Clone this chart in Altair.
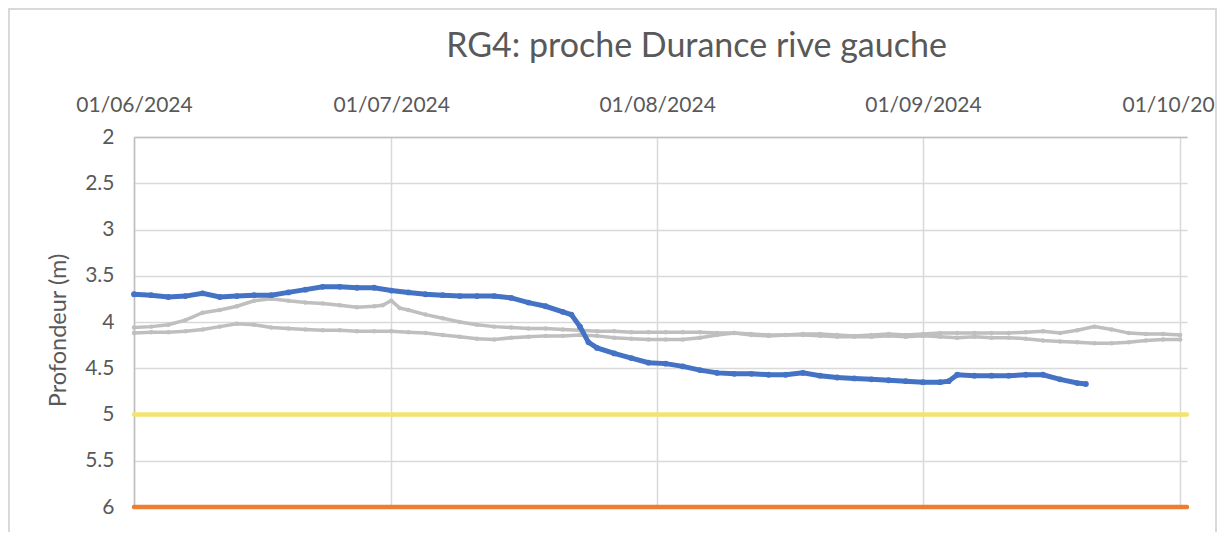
import altair as alt
import pandas as pd

# --- data (day offsets from 01/06/2024, depth in m) ---
blue_days = [0, 2, 4, 6, 8, 10, 12, 14, 16, 18, 20, 22, 24, 26, 28, 30, 32, 34, 36, 38,
             40, 42, 44, 46, 48, 50, 51, 52, 53, 54, 56, 58, 60, 62, 64, 66, 68, 70, 72, 74,
             76, 78, 80, 82, 84, 86, 88, 90, 92, 94, 95, 96, 98, 100, 102, 104, 106, 108, 110, 111]
blue_vals = [3.70, 3.71, 3.73, 3.72, 3.69, 3.73, 3.72, 3.71, 3.71, 3.68,
             3.65, 3.62, 3.62, 3.63, 3.63, 3.66, 3.68, 3.70, 3.71, 3.72,
             3.72, 3.72, 3.74, 3.79, 3.83, 3.89, 3.92, 4.05, 4.22, 4.28,
             4.34, 4.39, 4.44, 4.45, 4.48, 4.52, 4.55, 4.56, 4.56, 4.57,
             4.57, 4.55, 4.58, 4.60, 4.61, 4.62, 4.63, 4.64, 4.65, 4.65,
             4.64, 4.57, 4.58, 4.58, 4.58, 4.57, 4.57, 4.62, 4.66, 4.67]

grey_a_days = [0, 2, 4, 6, 8, 10, 12, 14, 16, 18, 20, 22, 24, 26, 28, 29, 30, 31,
               32, 34, 36, 38, 40, 42, 44, 46, 48, 50, 52, 54, 56, 58, 60, 62, 64, 66, 68, 70,
               72, 74, 76, 78, 80, 82, 84, 86, 88, 90, 92, 94, 96, 98, 100, 102, 104, 106, 108, 110,
               112, 114, 116, 118, 120, 122]
grey_a_vals = [4.06, 4.05, 4.03, 3.98, 3.90, 3.87, 3.83, 3.77, 3.75, 3.77, 3.79, 3.80, 3.82, 3.84, 3.83,
               3.82, 3.77, 3.85,
               3.87, 3.92, 3.96, 4.00, 4.03, 4.05, 4.06, 4.07, 4.07, 4.08,
               4.09, 4.10, 4.10, 4.11, 4.11, 4.11, 4.11, 4.11, 4.12, 4.12,
               4.13, 4.14, 4.14, 4.13, 4.13, 4.14, 4.15, 4.14, 4.13, 4.14,
               4.13, 4.12, 4.12, 4.12, 4.12, 4.12, 4.11, 4.10, 4.12, 4.09,
               4.05, 4.08, 4.12, 4.13, 4.13, 4.14]

grey_b_days = list(range(0, 123, 2))
grey_b_vals = [4.12, 4.11, 4.11, 4.10, 4.08, 4.05, 4.02, 4.03, 4.06, 4.07,
               4.08, 4.09, 4.09, 4.10, 4.10, 4.10, 4.11, 4.12, 4.14, 4.16,
               4.18, 4.19, 4.17, 4.16, 4.15, 4.15, 4.14, 4.15, 4.17, 4.18,
               4.19, 4.19, 4.19, 4.17, 4.14, 4.12, 4.14, 4.15, 4.14, 4.14,
               4.15, 4.16, 4.16, 4.16, 4.15, 4.16, 4.15, 4.16, 4.17, 4.16,
               4.17, 4.17, 4.18, 4.20, 4.21, 4.22, 4.23, 4.23, 4.22, 4.20,
               4.19, 4.19]

thresholds = [5.0, 6.0]
threshold_colors = ["#F3E46F", "#ED7D31"]

month_ticks = [(2024, 6), (2024, 7), (2024, 8), (2024, 9), (2024, 10)]
y_ticks = [2, 2.5, 3, 3.5, 4, 4.5, 5, 5.5, 6]

base = pd.Timestamp("2024-06-01")


def frame(name, days, vals):
    return pd.DataFrame({
        "serie": name,
        "date": [(base + pd.Timedelta(days=d)).strftime("%Y-%m-%dT%H:%M:%S") for d in days],
        "prof": vals,
    })


greys = pd.concat([frame("g1", grey_a_days, grey_a_vals), frame("g2", grey_b_days, grey_b_vals)])
blue = frame("b", blue_days, blue_vals)
thr = pd.DataFrame({"seuil": thresholds, "col": threshold_colors})

W, H = 1053, 370

x_enc = alt.X(
    "date:T",
    scale=alt.Scale(domain=[alt.DateTime(year=2024, month=6, date=1),
                            alt.DateTime(year=2024, month=10, date=1, hours=19)], nice=False),
    axis=alt.Axis(orient="top", title=None, format="%d/%m/%Y",
                  values=[alt.DateTime(year=y, month=m, date=1) for y, m in month_ticks],
                  labelPadding=22, grid=True, labelFlush=False),
)
y_enc = alt.Y(
    "prof:Q",
    scale=alt.Scale(domain=[2, 6], reverse=True, nice=False, zero=False),
    axis=alt.Axis(title="Profondeur (m)", values=y_ticks, format="~g", labelPadding=20,
                  titleX=-76, titleY=H / 2 + 8, titleBaseline="middle", titleFontSize=23.5,
                  grid=True),
)

grey_lines = alt.Chart(greys).mark_line(
    color="#BFBFBF", strokeWidth=3.5,
    point=alt.OverlayMarkDef(color="#BFBFBF", size=20, filled=True),
).encode(x=x_enc, y=y_enc, detail="serie:N")

blue_line = alt.Chart(blue).mark_line(
    color="#4472C4", strokeWidth=5,
    point=alt.OverlayMarkDef(color="#4472C4", size=34, filled=True),
).encode(x="date:T", y="prof:Q")

rules = alt.Chart(thr).mark_rule(strokeWidth=4.5, strokeCap="round").encode(
    y="seuil:Q",
    color=alt.Color("col:N", scale=None, legend=None),
)

border = alt.Chart(thr).mark_rect(filled=False, stroke="#D9D9D9", strokeWidth=2).encode(
    x=alt.value(-125), x2=alt.value(1082), y=alt.value(-128), y2=alt.value(H + 60),
)

chart = alt.layer(border, grey_lines, rules, blue_line).properties(
    width=W, height=H,
    title=alt.TitleParams("RG4: proche Durance rive gauche", font="Lato", fontSize=34,
                          color="#595959", fontWeight="normal", anchor="middle",
                          dx=36, dy=56, offset=0),
    autosize=alt.AutoSizeParams(type="none"),
    padding={"left": 126, "top": 129, "right": 30, "bottom": 25},
).configure_view(stroke=None).configure_axis(
    labelFont="Lato", labelFontSize=21, labelColor="#595959",
    titleFont="Lato", titleColor="#595959", titleFontWeight="normal",
    gridColor="#D9D9D9", gridWidth=1.5, domainColor="#BFBFBF", domainWidth=1.5,
    ticks=False,
)

chart.save("out.html", embed_options={"renderer": "svg", "actions": False})
